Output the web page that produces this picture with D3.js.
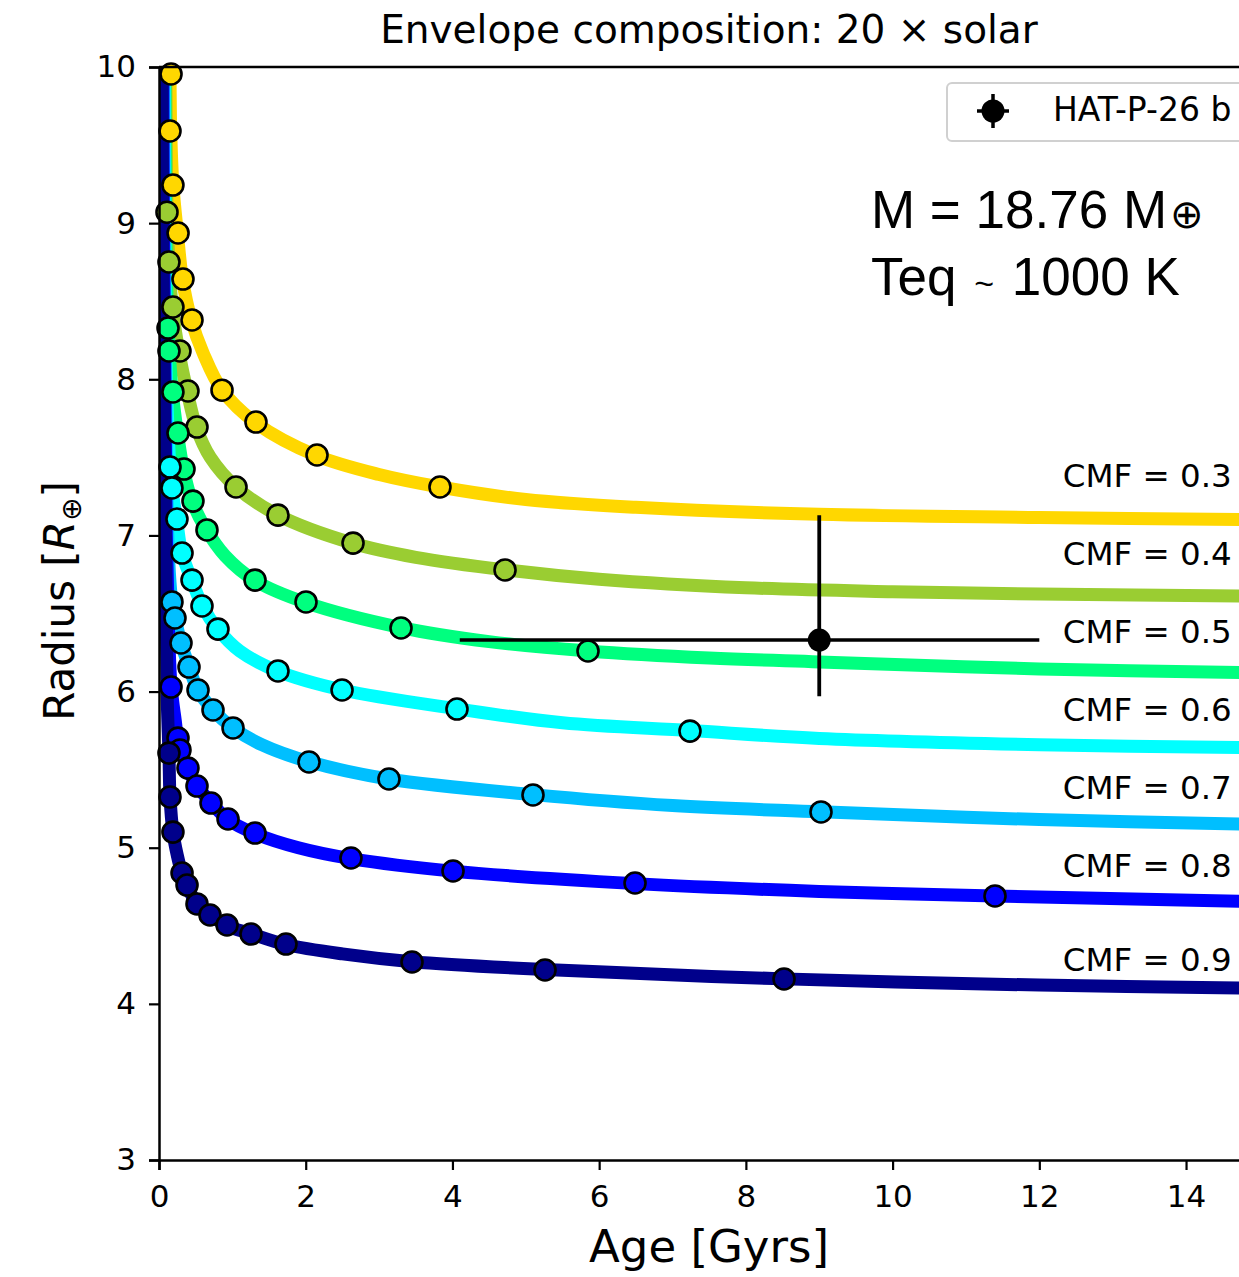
<!DOCTYPE html>
<html>
<head>
<meta charset="utf-8">
<script src="https://cdn.jsdelivr.net/npm/d3@7"></script>
<style>
  html, body { margin: 0; padding: 0; background: #fff; }
  text { font-family: "DejaVu Sans", sans-serif; fill: #000; }
</style>
</head>
<body>
<div id="chart"></div>
<script>
// CMF curves - radius vs age

const cmfValues = [0.3, 0.4, 0.5, 0.6, 0.7, 0.8, 0.9];
const cmfLabels = ["CMF = 0.3", "CMF = 0.4", "CMF = 0.5", "CMF = 0.6", "CMF = 0.7", "CMF = 0.8", "CMF = 0.9"];
const labelRadius = [7.31, 6.81, 6.31, 5.81, 5.31, 4.81, 4.21];
const labelAge = 12.32;

const xTicks = [0, 2, 4, 6, 8, 10, 12, 14];
const yTicks = [3, 4, 5, 6, 7, 8, 9, 10];

// model points (age Gyr, radius Re)
const pts03 = [[0.164, 9.955], [0.150, 9.59], [0.19, 9.244], [0.26, 8.937], [0.327, 8.642], [0.45, 8.38], [0.859, 7.93], [1.322, 7.726], [2.154, 7.515], [3.83, 7.31]];
const pts04 = [[0.109, 9.07], [0.136, 8.751], [0.19, 8.463], [0.286, 8.181], [0.395, 7.925], [0.518, 7.694], [1.05, 7.31], [1.622, 7.13], [2.645, 6.951], [4.717, 6.779]];
const pts05 = [[0.123, 8.328], [0.136, 8.181], [0.19, 7.919], [0.259, 7.656], [0.341, 7.425], [0.463, 7.22], [0.654, 7.035], [1.309, 6.714], [2.004, 6.574], [3.299, 6.407], [5.848, 6.26]];
const pts06 = [[0.15, 7.438], [0.177, 7.304], [0.245, 7.105], [0.314, 6.887], [0.45, 6.714], [0.586, 6.548], [0.804, 6.4], [1.622, 6.132], [2.495, 6.01], [4.062, 5.888], [7.238, 5.747]];
const pts07 = [[0.177, 6.574], [0.218, 6.471], [0.30, 6.311], [0.409, 6.157], [0.532, 6.01], [0.736, 5.882], [1.009, 5.767], [2.045, 5.549], [3.135, 5.44], [5.098, 5.338], [9.024, 5.229]];
const pts08 = [[0.164, 6.029], [0.259, 5.702], [0.286, 5.626], [0.395, 5.51], [0.518, 5.395], [0.709, 5.286], [0.941, 5.184], [1.309, 5.094], [2.617, 4.934], [4.008, 4.851], [6.489, 4.774], [11.396, 4.691]];
const pts09 = [[0.136, 5.606], [0.15, 5.325], [0.19, 5.10], [0.314, 4.838], [0.382, 4.761], [0.518, 4.64], [0.695, 4.569], [0.927, 4.505], [1.254, 4.447], [1.731, 4.383], [3.449, 4.268], [5.262, 4.217], [8.52, 4.159]];

// fitted curves
const line03 = [[0.14, 10.3], [0.15, 9.95], [0.16, 9.59], [0.19, 9.24], [0.25, 8.94], [0.32, 8.64], [0.44, 8.38], [0.6, 8.17], [0.86, 7.93], [1.32, 7.72], [2.15, 7.51], [3.0, 7.39], [3.83, 7.31], [5, 7.23], [6.5, 7.18], [9, 7.135], [12, 7.115], [15, 7.10]];
const line04 = [[0.09, 10.3], [0.1, 9.5], [0.11, 9.07], [0.135, 8.75], [0.18, 8.46], [0.27, 8.18], [0.38, 7.93], [0.51, 7.69], [0.7, 7.5], [1.05, 7.31], [1.62, 7.13], [2.64, 6.95], [3.5, 6.86], [4.72, 6.78], [6, 6.72], [8, 6.665], [10, 6.64], [12, 6.625], [15, 6.61]];
const line05 = [[0.08, 10.3], [0.09, 9], [0.11, 8.5], [0.125, 8.33], [0.14, 8.18], [0.18, 7.92], [0.25, 7.66], [0.33, 7.43], [0.45, 7.22], [0.64, 7.04], [0.9, 6.87], [1.31, 6.71], [2.0, 6.57], [3.3, 6.41], [4.5, 6.32], [5.85, 6.26], [7.5, 6.215], [9, 6.19], [12, 6.145], [15, 6.12]];
const line06 = [[0.07, 10.3], [0.08, 9], [0.1, 8], [0.13, 7.6], [0.15, 7.44], [0.175, 7.3], [0.24, 7.1], [0.31, 6.89], [0.45, 6.71], [0.59, 6.55], [0.8, 6.4], [1.1, 6.26], [1.62, 6.13], [2.5, 6.01], [4.06, 5.89], [5.5, 5.8], [7.24, 5.75], [9, 5.7], [12, 5.66], [15, 5.64]];
const line07 = [[0.06, 10.3], [0.07, 9], [0.09, 8], [0.12, 7], [0.15, 6.7], [0.177, 6.57], [0.22, 6.47], [0.3, 6.31], [0.41, 6.16], [0.53, 6.01], [0.74, 5.88], [1.0, 5.77], [1.4, 5.66], [2.05, 5.55], [3.13, 5.44], [5.1, 5.34], [7, 5.27], [9.02, 5.23], [12, 5.18], [15, 5.15]];
const line08 = [[0.05, 10.3], [0.06, 9], [0.08, 8], [0.1, 7], [0.13, 6.4], [0.165, 6.03], [0.22, 5.82], [0.27, 5.66], [0.39, 5.51], [0.52, 5.395], [0.71, 5.29], [0.94, 5.18], [1.31, 5.09], [1.9, 5.0], [2.62, 4.93], [4.0, 4.85], [6.5, 4.77], [9, 4.72], [11.4, 4.69], [15, 4.655]];
const line09 = [[0.04, 10.3], [0.05, 9], [0.07, 8], [0.09, 7], [0.11, 6], [0.136, 5.6], [0.15, 5.33], [0.19, 5.1], [0.25, 4.95], [0.31, 4.84], [0.38, 4.76], [0.52, 4.64], [0.7, 4.57], [0.93, 4.5], [1.25, 4.45], [1.73, 4.38], [2.5, 4.32], [3.45, 4.27], [5.26, 4.22], [8.52, 4.16], [12, 4.12], [15, 4.10]];

// HAT-P-26 b
const planetAge = 9.0, planetAgeLo = 4.1, planetAgeHi = 12.0;
const planetRad = 6.33, planetRadLo = 5.97, planetRadHi = 7.13;

const COLORS = ["#FFD700", "#9ACD32", "#00FF7F", "#00FFFF", "#00BFFF", "#0000FF", "#00008B"];

const allPts = [pts03, pts04, pts05, pts06, pts07, pts08, pts09];
const allLines = [line03, line04, line05, line06, line07, line08, line09];

const W = 1239, H = 1277;
const margin = { top: 67, left: 159, bottom: 117 };

const svg = d3.select("#chart").append("svg")
  .attr("width", W).attr("height", H)
  .style("display", "block");

svg.append("rect").attr("width", W).attr("height", H).attr("fill", "#fff");

const x = d3.scaleLinear().domain([0, 15]).range([margin.left, margin.left + 15 * 73.36]);
const y = d3.scaleLinear().domain([3, 10]).range([H - margin.bottom, margin.top]);

svg.append("defs").append("clipPath").attr("id", "plot-clip")
  .append("rect")
  .attr("x", x(0)).attr("y", y(10))
  .attr("width", x(15) - x(0)).attr("height", y(3) - y(10));

// curves
const lineGen = d3.line()
  .x(d => x(d[0]))
  .y(d => y(d[1]))
  .curve(d3.curveCatmullRom.alpha(0.5));

const plot = svg.append("g");

plot.append("g").attr("clip-path", "url(#plot-clip)")
  .selectAll("path")
  .data(allLines)
  .join("path")
  .attr("d", lineGen)
  .attr("fill", "none")
  .attr("stroke", (d, i) => COLORS[i])
  .attr("stroke-width", 13)
  .attr("stroke-linecap", "butt");

// titik model
allPts.forEach((pts, i) => {
  plot.append("g")
    .selectAll("circle")
    .data(pts)
    .join("circle")
    .attr("cx", d => x(d[0]))
    .attr("cy", d => y(d[1]))
    .attr("r", 10.5)
    .attr("fill", COLORS[i])
    .attr("stroke", "#000")
    .attr("stroke-width", 2.6);
});

// error bar planet
const eb = svg.append("g");
eb.append("line")
  .attr("x1", x(planetAgeLo)).attr("x2", x(planetAgeHi))
  .attr("y1", y(planetRad)).attr("y2", y(planetRad))
  .attr("stroke", "#000").attr("stroke-width", 3.5);
eb.append("line")
  .attr("x1", x(planetAge)).attr("x2", x(planetAge))
  .attr("y1", y(planetRadLo)).attr("y2", y(planetRadHi))
  .attr("stroke", "#000").attr("stroke-width", 3.8);
eb.append("circle")
  .attr("cx", x(planetAge)).attr("cy", y(planetRad))
  .attr("r", 11.5).attr("fill", "#000");

// CMF labels
svg.append("g")
  .selectAll("text")
  .data(cmfLabels)
  .join("text")
  .attr("x", x(labelAge))
  .attr("y", (d, i) => y(labelRadius[i]))
  .attr("font-size", "32.5px")
  .text(d => d);

// axes
const xAxis = svg.append("g")
  .attr("transform", `translate(0,${y(3)})`)
  .call(d3.axisBottom(x).tickValues(xTicks).tickSize(10).tickPadding(15).tickFormat(d3.format("d")));
const yAxis = svg.append("g")
  .attr("transform", `translate(${x(0)},0)`)
  .call(d3.axisLeft(y).tickValues(yTicks).tickSize(10).tickPadding(13).tickFormat(d3.format("d")));

[xAxis, yAxis].forEach(g => {
  g.select(".domain").attr("stroke", "#000").attr("stroke-width", 2.5);
  g.selectAll(".tick line").attr("stroke", "#000").attr("stroke-width", 2.2);
  g.selectAll(".tick text")
    .attr("font-family", "DejaVu Sans, sans-serif")
    .attr("font-size", "31px")
    .attr("fill", "#000");
});

// top spine
svg.append("line")
  .attr("x1", x(0)).attr("x2", x(15))
  .attr("y1", y(10)).attr("y2", y(10))
  .attr("stroke", "#000").attr("stroke-width", 2.5);

// title
svg.append("text")
  .attr("x", 709).attr("y", 43)
  .attr("text-anchor", "middle")
  .attr("font-size", "39px")
  .text("Envelope composition: 20 × solar");

// label sumbu x
svg.append("text")
  .attr("x", 709).attr("y", 1262)
  .attr("text-anchor", "middle")
  .attr("font-size", "45px")
  .text("Age [Gyrs]");

// label sumbu y
const yl = svg.append("text")
  .attr("transform", `translate(74,601) rotate(-90)`)
  .attr("text-anchor", "middle")
  .attr("font-size", "42px");
yl.append("tspan").text("Radius [");
yl.append("tspan").attr("font-style", "italic").text("R");
yl.append("tspan").attr("font-size", "28px").attr("dy", 7).text("⊕");
yl.append("tspan").attr("dy", -7).text("]");

// annotation
const ann = svg.append("g");
const mText = ann.append("text")
  .attr("x", 871).attr("y", 228)
  .attr("font-size", "53px")
  .style("font-family", "Liberation Sans, Arial, sans-serif");
mText.append("tspan").text("M = 18.76 M");
mText.append("tspan").attr("font-size", "40px").attr("dx", 3).text("⊕");
const teq = ann.append("text")
  .attr("x", 871).attr("y", 295)
  .attr("font-size", "53px")
  .style("font-family", "Liberation Sans, Arial, sans-serif");
teq.append("tspan").text("Teq ");
teq.append("tspan").attr("font-size", "34px").attr("dx", 3).text("~");
teq.append("tspan").attr("dx", 3).text(" 1000 K");

// legend
const lg = svg.append("g");
lg.append("rect")
  .attr("x", 947).attr("y", 83)
  .attr("width", 320).attr("height", 58)
  .attr("rx", 5)
  .attr("fill", "#fff").attr("fill-opacity", 0.8)
  .attr("stroke", "#d0d0d0").attr("stroke-width", 2);
lg.append("line")
  .attr("x1", 977).attr("x2", 1009).attr("y1", 111).attr("y2", 111)
  .attr("stroke", "#000").attr("stroke-width", 3.5);
lg.append("line")
  .attr("x1", 993).attr("x2", 993).attr("y1", 94).attr("y2", 128)
  .attr("stroke", "#000").attr("stroke-width", 3.5);
lg.append("circle")
  .attr("cx", 993).attr("cy", 111).attr("r", 11.5).attr("fill", "#000");
lg.append("text")
  .attr("x", 1053).attr("y", 121)
  .attr("font-size", "33px")
  .text("HAT-P-26 b");
</script>
</body>
</html>
